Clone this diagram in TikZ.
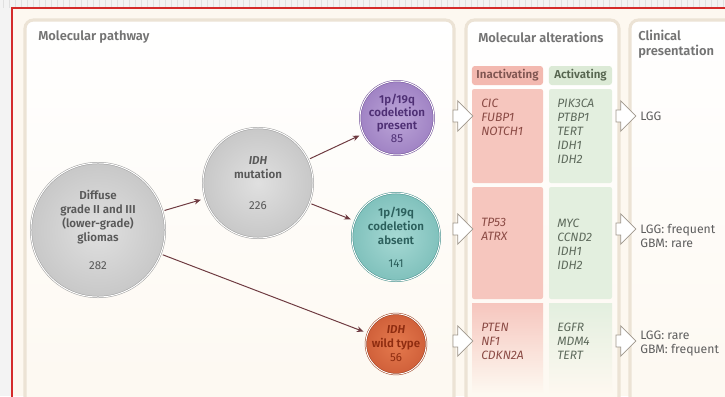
\documentclass[tikz,border=0pt]{standalone}
\usepackage{fontspec}
\setmainfont{Fira Sans}[BoldFont={Fira Sans SemiBold},BoldItalicFont={Fira Sans SemiBold Italic}]
\usetikzlibrary{arrows.meta,positioning,shapes.arrows}
\definecolor{Cream}{HTML}{FDF8F0}
\definecolor{Strip}{HTML}{F3F3F3}
\definecolor{StripLine}{HTML}{E0E0E0}
\definecolor{Frame}{HTML}{D42B2B}
\definecolor{PanelEdge}{HTML}{ECE3D5}
\definecolor{TitleGrey}{HTML}{737373}
\definecolor{Pink}{HTML}{F6C6BE}
\definecolor{PinkHead}{HTML}{F3B9B0}
\definecolor{PinkText}{HTML}{8A4A44}
\definecolor{PinkHeadText}{HTML}{7E5450}
\definecolor{Green}{HTML}{E3EFDF}
\definecolor{GreenHead}{HTML}{DCEAD6}
\definecolor{GreenText}{HTML}{5E6A5C}
\definecolor{GreenHeadText}{HTML}{56654F}
\definecolor{ClinicText}{HTML}{5E5E5E}
\definecolor{Maroon}{HTML}{6E3A40}
\definecolor{ArrowEdge}{HTML}{9F978C}
\definecolor{GreyIn}{HTML}{E0E0E0}
\definecolor{GreyOut}{HTML}{C8C8C8}
\definecolor{GreyRim}{HTML}{9A9A9A}
\definecolor{GreyText}{HTML}{585858}
\definecolor{PurpleIn}{HTML}{BCA5D8}
\definecolor{PurpleOut}{HTML}{A083C4}
\definecolor{PurpleRim}{HTML}{6E4D96}
\definecolor{PurpleText}{HTML}{4E2F74}
\definecolor{TealIn}{HTML}{A6D9D4}
\definecolor{TealOut}{HTML}{80C1BC}
\definecolor{TealRim}{HTML}{3F8C88}
\definecolor{TealText}{HTML}{2B5F5C}
\definecolor{OrangeIn}{HTML}{E57A4E}
\definecolor{OrangeOut}{HTML}{D0603A}
\definecolor{OrangeRim}{HTML}{9A3A1A}
\definecolor{OrangeText}{HTML}{8E2C10}
\tikzset{
  panel/.style={draw=PanelEdge,line width=2.2pt,rounded corners=6pt,top color=white,bottom color=Cream},
  paneltitle/.style={text=TitleGrey,font=\fontsize{9.2}{11}\selectfont\bfseries,inner sep=0pt},
  headpink/.style={fill=PinkHead,rounded corners=2pt,minimum width=1.775cm,minimum height=.475cm,inner sep=0pt,text=PinkHeadText,font=\fontsize{8.2}{10}\selectfont\bfseries},
  headgreen/.style={fill=GreenHead,rounded corners=2pt,minimum width=1.575cm,minimum height=.475cm,inner sep=0pt,text=GreenHeadText,font=\fontsize{8.2}{10}\selectfont\bfseries},
  genepink/.style={text=PinkText,align=left,inner sep=0pt,font=\fontsize{8.6}{10}\selectfont\itshape},
  genegreen/.style={text=GreenText,align=left,inner sep=0pt,font=\fontsize{8.6}{10}\selectfont\itshape},
  clinic/.style={text=ClinicText,align=left,inner sep=0pt,font=\fontsize{8.7}{10.3}\selectfont},
  hollow/.style={single arrow,draw=ArrowEdge,fill=white,line width=.5pt,minimum height=.5cm,inner xsep=0pt,inner ysep=.14cm,single arrow head extend=.23cm},
  cellbase/.style={circle,inner sep=0pt,align=center,line width=.35pt,double=white,double distance=.7pt,font=\fontsize{8.2}{10}\selectfont\bfseries},
  greycell/.style={cellbase,draw=GreyRim,inner color=GreyIn,outer color=GreyOut,text=GreyText},
  purplecell/.style={cellbase,draw=PurpleRim,inner color=PurpleIn,outer color=PurpleOut,text=PurpleText,minimum size=1.65cm,font=\fontsize{8.2}{9.2}\selectfont\bfseries},
  tealcell/.style={cellbase,draw=TealRim,inner color=TealIn,outer color=TealOut,text=TealText,minimum size=2.2cm},
  orangecell/.style={cellbase,draw=OrangeRim,inner color=OrangeIn,outer color=OrangeOut,text=OrangeText,minimum size=1.4cm},
  pathway/.style={-{Stealth[length=1.7mm,width=1.4mm]},draw=Maroon,line width=.7pt,shorten <=1.5pt,shorten >=3pt}
}
\begin{document}
\begin{tikzpicture}[x=.025cm,y=-.025cm]
\useasboundingbox (0,0) rectangle (725,396);
\clip (0,0) rectangle (725,396);
\fill[Cream] (0,0) rectangle (725,396);
\fill[Strip] (0,0) rectangle (725,8);
\fill[Strip] (0,0) rectangle (12,396);
\foreach \x in {3,9,...,723} \draw[StripLine,line width=.3pt] (\x,0) -- (\x,8);
\draw[Frame,line width=.8pt] (12,400) -- (12,8) -- (730,8);

\shade[panel] (25,20) rectangle (454,430);
\shade[panel] (466,20) rectangle (619,430);
\shade[panel] (630,20) rectangle (770,430);

\node[paneltitle,anchor=west] (pathwaytitle) at (38,37) {Molecular pathway};
\node[paneltitle,anchor=west] (altertitle) at (478,37) {Molecular alterations};
\node[paneltitle,anchor=west,align=left] (clinictitle) at (638,44) {Clinical\\presentation};

\node[headpink] (inacthdr) at (507.5,75.5) {Inactivating};
\node[headgreen] (acthdr) at (580.5,75.5) {Activating};

\fill[Pink,rounded corners=1.5pt] (472,89) rectangle (543,183);
\fill[Pink,rounded corners=1.5pt] (472,187) rectangle (543,299);
\shade[top color=Pink,middle color=Pink,bottom color=Cream] (472,303) rectangle (543,392);
\fill[Green,rounded corners=1.5pt] (549,89) rectangle (612,183);
\fill[Green,rounded corners=1.5pt] (549,187) rectangle (612,299);
\shade[top color=Green,middle color=Green,bottom color=Cream] (549,303) rectangle (612,392);

\node[genepink,anchor=west] (inactA) at (481,117) {CIC\\FUBP1\\NOTCH1};
\node[genegreen,anchor=west] (actA) at (557,131) {PIK3CA\\PTBP1\\TERT\\IDH1\\IDH2};
\node[genepink,anchor=west] (inactB) at (481,229.5) {TP53\\ATRX};
\node[genegreen,anchor=west] (actB) at (557,244) {MYC\\CCND2\\IDH1\\IDH2};
\node[genepink,anchor=west] (inactC) at (481,341.5) {PTEN\\NF1\\CDKN2A};
\node[genegreen,anchor=west] (actC) at (557,341.5) {EGFR\\MDM4\\TERT};

\node[hollow] (toalterA) at (460,116) {};
\node[hollow] (toalterB) at (460,229) {};
\node[hollow] (toalterC) at (460,341) {};
\node[hollow] (toclinA) at (623,116) {};
\node[hollow] (toclinB) at (623,229) {};
\node[hollow] (toclinC) at (623,341) {};

\node[clinic,anchor=west] (clinA) at (640,116) {LGG};
\node[clinic,anchor=west] (clinB) at (640,236) {LGG: frequent\\GBM: rare};
\node[clinic,anchor=west] (clinC) at (640,343.5) {LGG: rare\\GBM: frequent};

\node[greycell,minimum size=3.35cm] (lgg) at (98,230) {Diffuse\\grade II and III\\(lower-grade)\\gliomas\\[10pt]{\mdseries 282}};
\node[greycell,minimum size=2.75cm] (idhmut) at (258,183) {\textit{IDH}\\mutation\\[12pt]{\mdseries 226}};
\node[purplecell] (codelpres) at (397,118) {1p/19q\\codeletion\\present\\{\mdseries 85}};
\node[tealcell] (codelabs) at (396,237) {1p/19q\\codeletion\\absent\\[6pt]{\mdseries 141}};
\node[orangecell] (idhwt) at (396,344) {\textit{IDH}\\wild type\\{\mdseries 56}};

\draw[pathway] (lgg) -- (idhmut);
\draw[pathway] (idhmut) -- (codelpres);
\draw[pathway] (idhmut) -- (codelabs);
\draw[pathway] (lgg) -- (idhwt);
\end{tikzpicture}
\end{document}
